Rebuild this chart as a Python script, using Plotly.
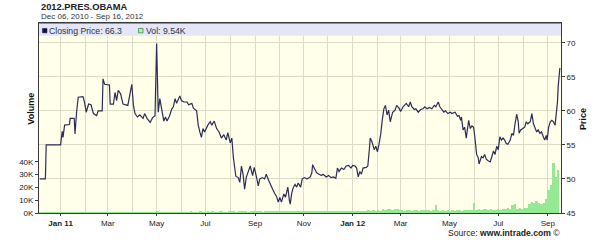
import pandas as pd
import plotly.graph_objects as go

# ---------------- data ----------------
# closing price: days since 2011-01-01, and price
price_day = [
    -26, -19, -18, 0, 2, 3, 5, 11, 12, 17, 18, 19, 20, 22, 28, 30, 32, 35, 38, 41,
    45, 47, 52, 53, 55, 61, 62, 66, 68, 70, 72, 75, 78, 84, 87, 89, 91, 93, 96, 99,
    103, 105, 108, 112, 115, 118, 120, 122, 124, 126, 129, 131, 133, 136, 139, 141, 143, 145, 149, 151,
    154, 158, 160, 164, 166, 170, 172, 174, 176, 178, 180, 184, 187, 189, 192, 195, 198, 201, 204, 207,
    209, 212, 214, 216, 219, 222, 224, 226, 228, 230, 232, 234, 237, 240, 242, 245, 247, 249, 252, 255,
    257, 260, 262, 265, 268, 270, 272, 274, 276, 279, 281, 284, 286, 287, 289, 291, 293, 295, 297, 300,
    302, 305, 308, 312, 314, 315, 317, 320, 323, 326, 328, 332, 335, 338, 341, 344, 346, 348, 351, 354,
    357, 360, 363, 365, 368, 370, 372, 374, 376, 378, 382, 384, 386, 387, 389, 392, 394, 396, 398, 400,
    402, 404, 406, 408, 410, 412, 415, 418, 420, 423, 425, 428, 432, 435, 437, 439, 442, 444, 447, 450,
    453, 455, 458, 461, 464, 467, 469, 472, 474, 476, 479, 481, 484, 487, 489, 493, 496, 498, 500, 501,
    503, 505, 507, 510, 512, 514, 516, 517, 519, 520, 522, 523, 526, 528, 530, 532, 534, 537, 539, 541,
    543, 545, 547, 549, 551, 553, 555, 557, 559, 562, 564, 566, 568, 570, 572, 573, 575, 578, 580, 582,
    584, 587, 589, 591, 593, 595, 597, 599, 601, 603, 605, 607, 608, 610, 612, 614, 616, 618, 619, 621,
    622, 623, 624,
]
price_val = [
    50.0, 50.0, 55.0, 55.0, 57.0, 56.1, 57.9, 58.0, 58.9, 58.9, 56.6, 58.9, 59.8, 62.0, 62.1, 61.2, 59.8, 61.0, 60.9, 59.6,
    59.3, 60.0, 60.0, 64.7, 63.9, 63.8, 61.0, 61.0, 62.7, 61.5, 63.0, 62.5, 61.0, 60.8, 62.5, 63.9, 60.8, 59.6, 59.1, 59.4,
    58.9, 59.6, 58.9, 58.3, 59.0, 59.3, 69.9, 59.8, 61.8, 60.3, 58.5, 59.1, 58.5, 59.2, 60.3, 60.6, 61.8, 61.1, 62.2, 61.5,
    61.3, 61.3, 60.9, 61.1, 60.4, 60.0, 57.9, 56.9, 56.1, 57.4, 56.9, 57.9, 58.4, 57.9, 58.5, 57.4, 56.9, 56.0, 56.5, 55.7,
    56.8, 55.3, 56.0, 53.1, 50.4, 50.2, 49.5, 51.9, 50.7, 48.5, 50.2, 50.9, 51.9, 50.5, 51.7, 50.2, 49.0, 50.0, 50.2, 50.0,
    50.7, 49.8, 49.2, 48.5, 47.8, 47.4, 46.6, 47.3, 46.6, 47.8, 47.3, 48.8, 46.8, 46.3, 48.0, 48.8, 49.2, 48.8, 49.4, 48.8,
    50.0, 50.2, 50.0, 50.3, 50.9, 52.1, 51.6, 50.9, 50.7, 50.5, 50.7, 50.3, 50.5, 50.2, 50.3, 50.1, 51.6, 51.1, 51.6, 51.4,
    51.9, 52.0, 51.6, 52.0, 51.9, 51.6, 50.3, 51.1, 50.7, 51.6, 51.7, 51.9, 54.5, 56.0, 55.5, 54.3, 54.8, 54.0, 55.1, 56.5,
    58.6, 60.3, 60.8, 59.4, 60.1, 58.4, 59.8, 60.1, 60.8, 60.4, 59.9, 60.6, 61.1, 60.6, 61.3, 60.6, 60.2, 60.3, 59.8, 60.2,
    60.3, 60.6, 60.3, 60.5, 60.3, 60.8, 60.6, 61.3, 60.6, 60.3, 59.8, 60.0, 59.6, 59.8, 59.6, 59.8, 59.2, 59.3, 58.6, 59.1,
    57.2, 57.6, 56.0, 58.6, 57.4, 57.8, 57.6, 56.9, 54.1, 53.6, 53.1, 52.2, 53.3, 53.1, 53.6, 52.9, 52.7, 52.5, 53.3, 54.1,
    53.6, 54.8, 54.3, 56.2, 55.7, 56.0, 55.7, 55.2, 55.1, 55.7, 56.7, 56.4, 58.1, 59.5, 58.4, 56.7, 57.2, 57.4, 57.6, 58.4,
    58.1, 58.4, 59.6, 58.1, 57.4, 56.9, 57.2, 56.7, 56.9, 56.4, 55.7, 56.4, 55.7, 57.6, 58.4, 58.6, 58.4, 57.9, 59.1, 61.3,
    63.7, 65.6, 66.3,
]

# volume (thousands), one value per 3-day bucket starting 2010-12-06
vol_start = "2010-12-06"
vol_k = [
    0.2, 0.2, 0.3, 0.2, 0.2, 0.3, 0.2, 0.2, 0.3,
    0.3, 0.2, 0.3, 0.4, 0.2, 0.3, 0.3, 0.2, 0.4, 0.3,
    0.3, 0.4, 0.2, 0.3, 0.3, 0.4, 0.3, 0.2, 0.3, 0.4,
    0.3, 0.3, 0.4, 0.2, 0.3, 0.3, 0.4, 0.3, 0.3, 0.2,
    0.4, 0.3, 0.3, 0.4, 0.3, 0.2, 0.3, 0.4, 0.3, 0.5,
    0.9, 0.5, 0.4, 0.3, 0.4, 0.3, 0.5, 0.4, 0.3, 0.4,
    0.6, 0.5, 0.7, 0.6, 0.8, 0.5, 0.7, 0.6, 0.9, 0.7,
    0.6, 0.8, 0.7, 0.9, 0.6, 0.7, 0.8, 1.0, 0.7, 0.6,
    0.8, 1.1, 0.9, 0.7, 0.8, 1.0, 0.8, 0.9, 0.7, 1.2,
    0.9, 0.8, 1.0, 0.9, 0.7, 1.1, 0.8, 0.9, 1.0, 0.8,
    1.2, 0.9, 0.8, 1.1, 1.0, 0.9, 0.8, 1.0, 1.3, 0.9,
    0.8, 1.0, 1.1, 0.9, 0.8, 1.2, 1.0, 0.9, 1.1, 0.8,
    1.0, 1.2, 0.9, 1.0, 0.8, 1.1, 1.0, 0.9, 1.2, 1.0,
    0.9, 1.1,
    1.2, 1.0, 1.4, 1.1, 1.3, 1.8, 2.0, 1.6, 2.2, 1.7,
    2.1, 1.8, 3.0, 2.4, 2.8, 3.1, 2.5, 2.9, 3.2, 2.6,
    2.2, 1.9, 2.4, 2.0, 1.8, 2.3, 2.1, 1.9, 2.5, 2.2,
    2.0, 2.4, 1.9, 2.6, 6.0, 2.2, 1.8, 2.1, 1.6, 2.4,
    1.9, 2.2, 1.7, 2.5, 2.0, 1.8, 2.3, 2.6, 2.1, 2.4,
    7.5, 2.6, 3.0, 2.4, 2.8, 3.3, 2.5, 2.9, 2.2, 2.7,
    3.0, 2.6, 3.4, 2.8, 4.0, 3.1, 6.2, 6.8, 3.5, 3.9, 3.2,
    3.6, 4.2, 7.2, 8.5, 7.8, 9.0, 8.0, 6.8, 7.5,
    11.0, 18.0, 22.0, 39.0, 28.0, 34.0,
]

x_tick_dates = ["2011-01-01", "2011-03-01", "2011-05-01", "2011-07-01", "2011-09-01", "2011-11-01",
                "2012-01-01", "2012-03-01", "2012-05-01", "2012-07-01", "2012-09-01"]
x_tick_text = ["<b>Jan 11</b>", "Mar", "May", "Jul", "Sep", "Nov",
               "<b>Jan 12</b>", "Mar", "May", "Jul", "Sep"]
price_ticks = [45, 50, 55, 60, 65, 70]
vol_ticks = [0, 10, 20, 30, 40]
vol_tick_text = ["0K", "10K", "20K", "30K", "40K"]

last_price = "66.3"
last_vol = "9.54K"

# ---------------- figure ----------------
price_dates = pd.Timestamp("2011-01-01") + pd.to_timedelta(price_day, unit="D")
vol_dates = pd.date_range(vol_start, periods=len(vol_k), freq="3D")

FONT = "Liberation Sans, Arial, sans-serif"
GRID = "#DCDCC6"
AXIS = "#3a3a3a"

fig = go.Figure()
fig.add_trace(go.Bar(
    x=vol_dates, y=vol_k, yaxis="y", width=3 * 86400000,
    marker=dict(color="#93EA93", line=dict(width=0)), showlegend=False,
))
fig.add_trace(go.Scatter(
    x=price_dates, y=price_val, yaxis="y2", mode="lines",
    line=dict(color="#2C2C58", width=1.2), showlegend=False,
))

fig.update_layout(
    width=600, height=240,
    margin=dict(l=39, r=39, t=23, b=24, pad=0),
    paper_bgcolor="white", plot_bgcolor="#FFFFEA",
    font=dict(family=FONT, size=8, color="#222"),
    bargap=0,
    xaxis=dict(
        type="date", range=["2010-12-05", "2012-09-17 10:00"],
        tickmode="array", tickvals=x_tick_dates, ticktext=x_tick_text,
        ticks="outside", ticklen=2, tickcolor=AXIS,
        showgrid=True, gridcolor=GRID, gridwidth=1,
        minor=dict(dtick="M1", tick0="2010-12-01", showgrid=True, gridcolor=GRID, ticks=""),
        showline=True, linecolor=AXIS, linewidth=1, mirror=True,
        tickfont=dict(size=8, color="#222"), zeroline=False,
    ),
    yaxis=dict(
        side="left", range=[0, 148.5], tickmode="array", tickvals=vol_ticks,
        ticktext=vol_tick_text, ticks="outside", ticklen=3, tickcolor=AXIS,
        showgrid=False, zeroline=False, showline=True, linecolor=AXIS, linewidth=1,
        tickfont=dict(size=8, color="#222"),
    ),
    yaxis2=dict(
        side="right", overlaying="y", range=[45, 72.9], tickmode="array", tickvals=price_ticks,
        ticks="outside", ticklen=3, tickcolor=AXIS,
        showgrid=True, gridcolor=GRID, zeroline=False, showline=True, linecolor=AXIS, linewidth=1,
        tickfont=dict(size=8, color="#222"),
    ),
)

H = 193.0
W = 522.0
def px(xp):
    return (xp - 39) / W
def py(yp):
    return (216 - yp) / H

shapes = [
    dict(type="rect", xref="paper", yref="paper", x0=0, x1=1, y0=py(36), y1=1,
         fillcolor="#E4E6F8", line=dict(width=0), layer="above"),
    dict(type="rect", xref="paper", yref="paper", x0=px(42.5), x1=px(47), y0=py(33), y1=py(28.5),
         fillcolor="#14143C", line=dict(color="#14143C", width=0.5), layer="above"),
    dict(type="rect", xref="paper", yref="paper", x0=px(138.5), x1=px(143), y0=py(33), y1=py(28.5),
         fillcolor="#B4F0B4", line=dict(color="#3E8E3E", width=0.8), layer="above"),
    dict(type="line", xref="paper", yref="paper", x0=0, x1=1, y0=1, y1=1,
         line=dict(color=AXIS, width=1), layer="above"),
]
fig.update_layout(shapes=shapes)

ann = [
    dict(text="<b>2012.PRES.OBAMA</b>", x=px(39), y=py(6.5), xanchor="left", yanchor="middle",
         font=dict(size=9.3, color="#222")),
    dict(text="Dec 06, 2010 - Sep 16, 2012", x=px(39), y=py(16.5), xanchor="left", yanchor="middle",
         font=dict(size=8, color="#333")),
    dict(text="Closing Price: " + last_price, x=px(47), y=py(31), xanchor="left", yanchor="middle",
         font=dict(size=8.7, color="#333")),
    dict(text="Vol: " + last_vol, x=px(143.5), y=py(31), xanchor="left", yanchor="middle",
         font=dict(size=8.7, color="#333")),
    dict(text="<b>Volume</b>", x=px(31), y=py(110), xanchor="center", yanchor="middle",
         textangle=-90, font=dict(size=9, color="#111")),
    dict(text="<b>Price</b>", x=px(583.5), y=py(121), xanchor="center", yanchor="middle",
         textangle=-90, font=dict(size=9, color="#111")),
    dict(text="Source: <b>www.intrade.com</b> ©", x=px(562), y=py(236), xanchor="right", yanchor="middle",
         font=dict(size=8.6, color="#222")),
]
for a in ann:
    a.update(xref="paper", yref="paper", showarrow=False)
fig.update_layout(annotations=ann)

fig.write_html("out.html")
